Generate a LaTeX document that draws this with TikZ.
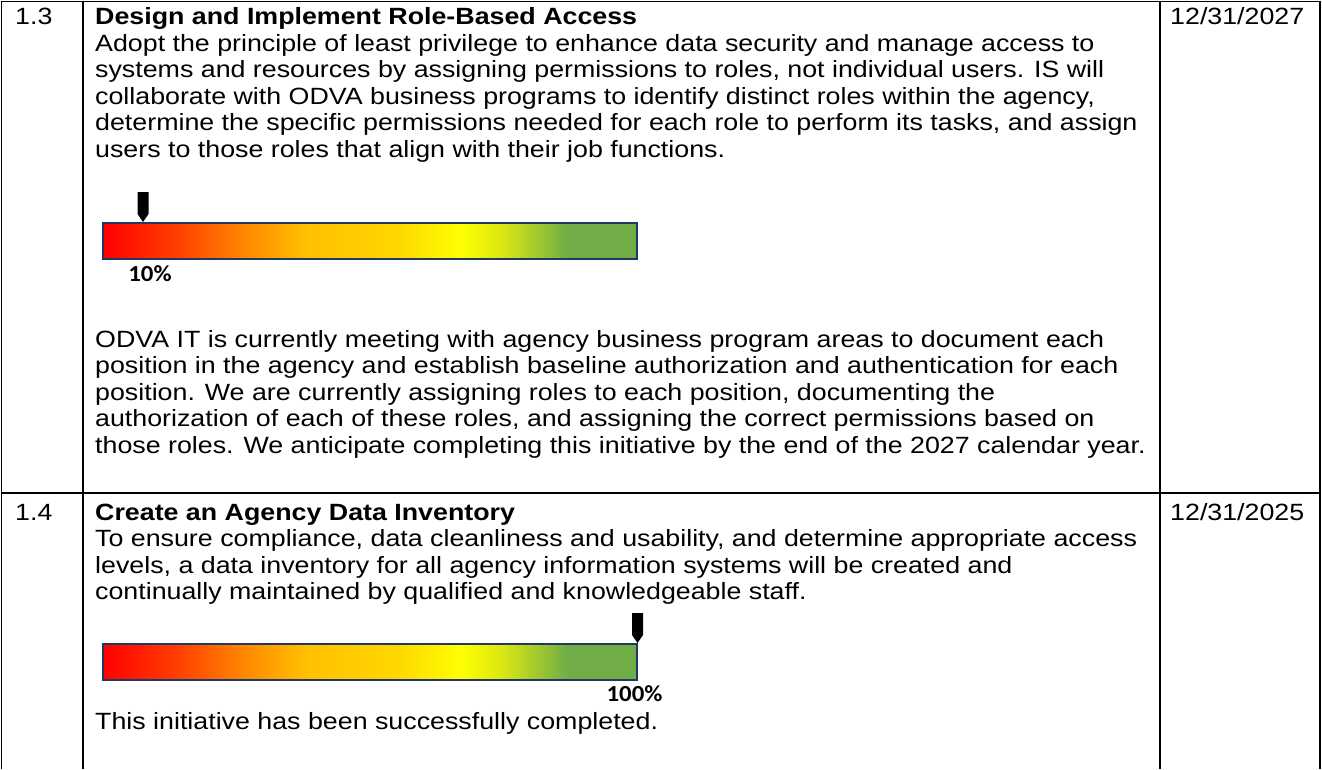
\documentclass[tikz,border=0pt]{standalone}
\usepackage{fontspec}
\setmainfont{Liberation Sans}[FakeStretch=1.14]
\newfontfamily\labelfont{Carlito}[FakeStretch=1.08]

% progress bar colours
\definecolor{gRed}{HTML}{FF0000}
\definecolor{gRedOr}{HTML}{FF4000}
\definecolor{gOrange}{HTML}{FF9000}
\definecolor{gAmber}{HTML}{FFC000}
\definecolor{gGold}{HTML}{FFD700}
\definecolor{gYellow}{HTML}{FFFF00}
\definecolor{gLime}{HTML}{D8E614}
\definecolor{gGreen}{HTML}{70AD47}
\definecolor{barEdge}{HTML}{1F3864}

% the central 25bp--75bp part is stretched over the bar
\pgfdeclarehorizontalshading{progressgrad}{100bp}{%
  color(0bp)=(gRed); color(25bp)=(gRed); color(32bp)=(gRedOr);
  color(39bp)=(gOrange); color(44bp)=(gAmber); color(52.5bp)=(gGold);
  color(58.5bp)=(gYellow); color(62.5bp)=(gLime); color(68.5bp)=(gGreen);
  color(75bp)=(gGreen); color(100bp)=(gGreen)}

\tikzset{
  rule/.style={line width=1.8pt, black},
  body/.style={font=\fontsize{23.5}{26.5}\selectfont, inner sep=0pt, anchor=base west},
  head/.style={body, font=\bfseries\fontsize{23.5}{26.5}\selectfont},
  pct/.style={font=\labelfont\bfseries\fontsize{23}{23}\selectfont, inner sep=0pt, anchor=base},
  progressbar/.style={draw=barEdge, line width=2pt, shading=progressgrad,
    minimum width=534pt, minimum height=36pt, inner sep=0pt, anchor=north west},
  pointer/.pic={\fill[black] (-5.5,-30) -- (5.5,-30) -- (5.5,-8) -- (0,0) -- (-5.5,-8) -- cycle;}
}

\begin{document}
\begin{tikzpicture}[x=1pt, y=-1pt]
\useasboundingbox (0,0) rectangle (1322,769);

% table rules
\draw[rule] (0.6,1.5) -- (1321.2,1.5);
\draw[rule] (0.6,493) -- (1321.2,493);
\draw[rule] (1.5,0.6) -- (1.5,769);
\draw[rule] (83,0.6) -- (83,769);
\draw[rule] (1160,0.6) -- (1160,769);
\draw[rule] (1320.3,0.6) -- (1320.3,769);

% ---- item 1.3 ----
\node[body] (n13) at (15,24.5) {1.3};
\node[head] (t13) at (95,24.5) {Design and Implement Role-Based Access};
\node[body] (d13) at (1170,24.5) {12/31/2027};
\node[body] (a1) at (95,51) {Adopt the principle of least privilege to enhance data security and manage access to};
\node[body] (a2) at (95,77.5) {systems and resources by assigning permissions to roles, not individual users. IS will};
\node[body] (a3) at (95,104) {collaborate with ODVA business programs to identify distinct roles within the agency,};
\node[body] (a4) at (95,130.5) {determine the specific permissions needed for each role to perform its tasks, and assign};
\node[body] (a5) at (95,157) {users to those roles that align with their job functions.};

\node[progressbar] (bar1) at (102,222) {};
\pic (mark1) at ([xshift=41pt]bar1.north west) {pointer};
\node[pct] (p1) at (150,281) {10\%};

\node[body] (b1) at (95,347) {ODVA IT is currently meeting with agency business program areas to document each};
\node[body] (b2) at (95,373.5) {position in the agency and establish baseline authorization and authentication for each};
\node[body] (b3) at (95,400) {position. We are currently assigning roles to each position, documenting the};
\node[body] (b4) at (95,426.5) {authorization of each of these roles, and assigning the correct permissions based on};
\node[body] (b5) at (95,453) {those roles. We anticipate completing this initiative by the end of the 2027 calendar year.};

% ---- item 1.4 ----
\node[body] (n14) at (15,520) {1.4};
\node[head] (t14) at (95,520) {Create an Agency Data Inventory};
\node[body] (d14) at (1170,520) {12/31/2025};
\node[body] (c1) at (95,546.5) {To ensure compliance, data cleanliness and usability, and determine appropriate access};
\node[body] (c2) at (95,573) {levels, a data inventory for all agency information systems will be created and};
\node[body] (c3) at (95,599.5) {continually maintained by qualified and knowledgeable staff.};

\node[progressbar] (bar2) at (102,643) {};
\pic (mark2) at ([xshift=-0.5pt]bar2.north east) {pointer};
\node[pct] (p2) at (634.5,701) {100\%};

\node[body] (e1) at (95,729) {This initiative has been successfully completed.};
\end{tikzpicture}
\end{document}
